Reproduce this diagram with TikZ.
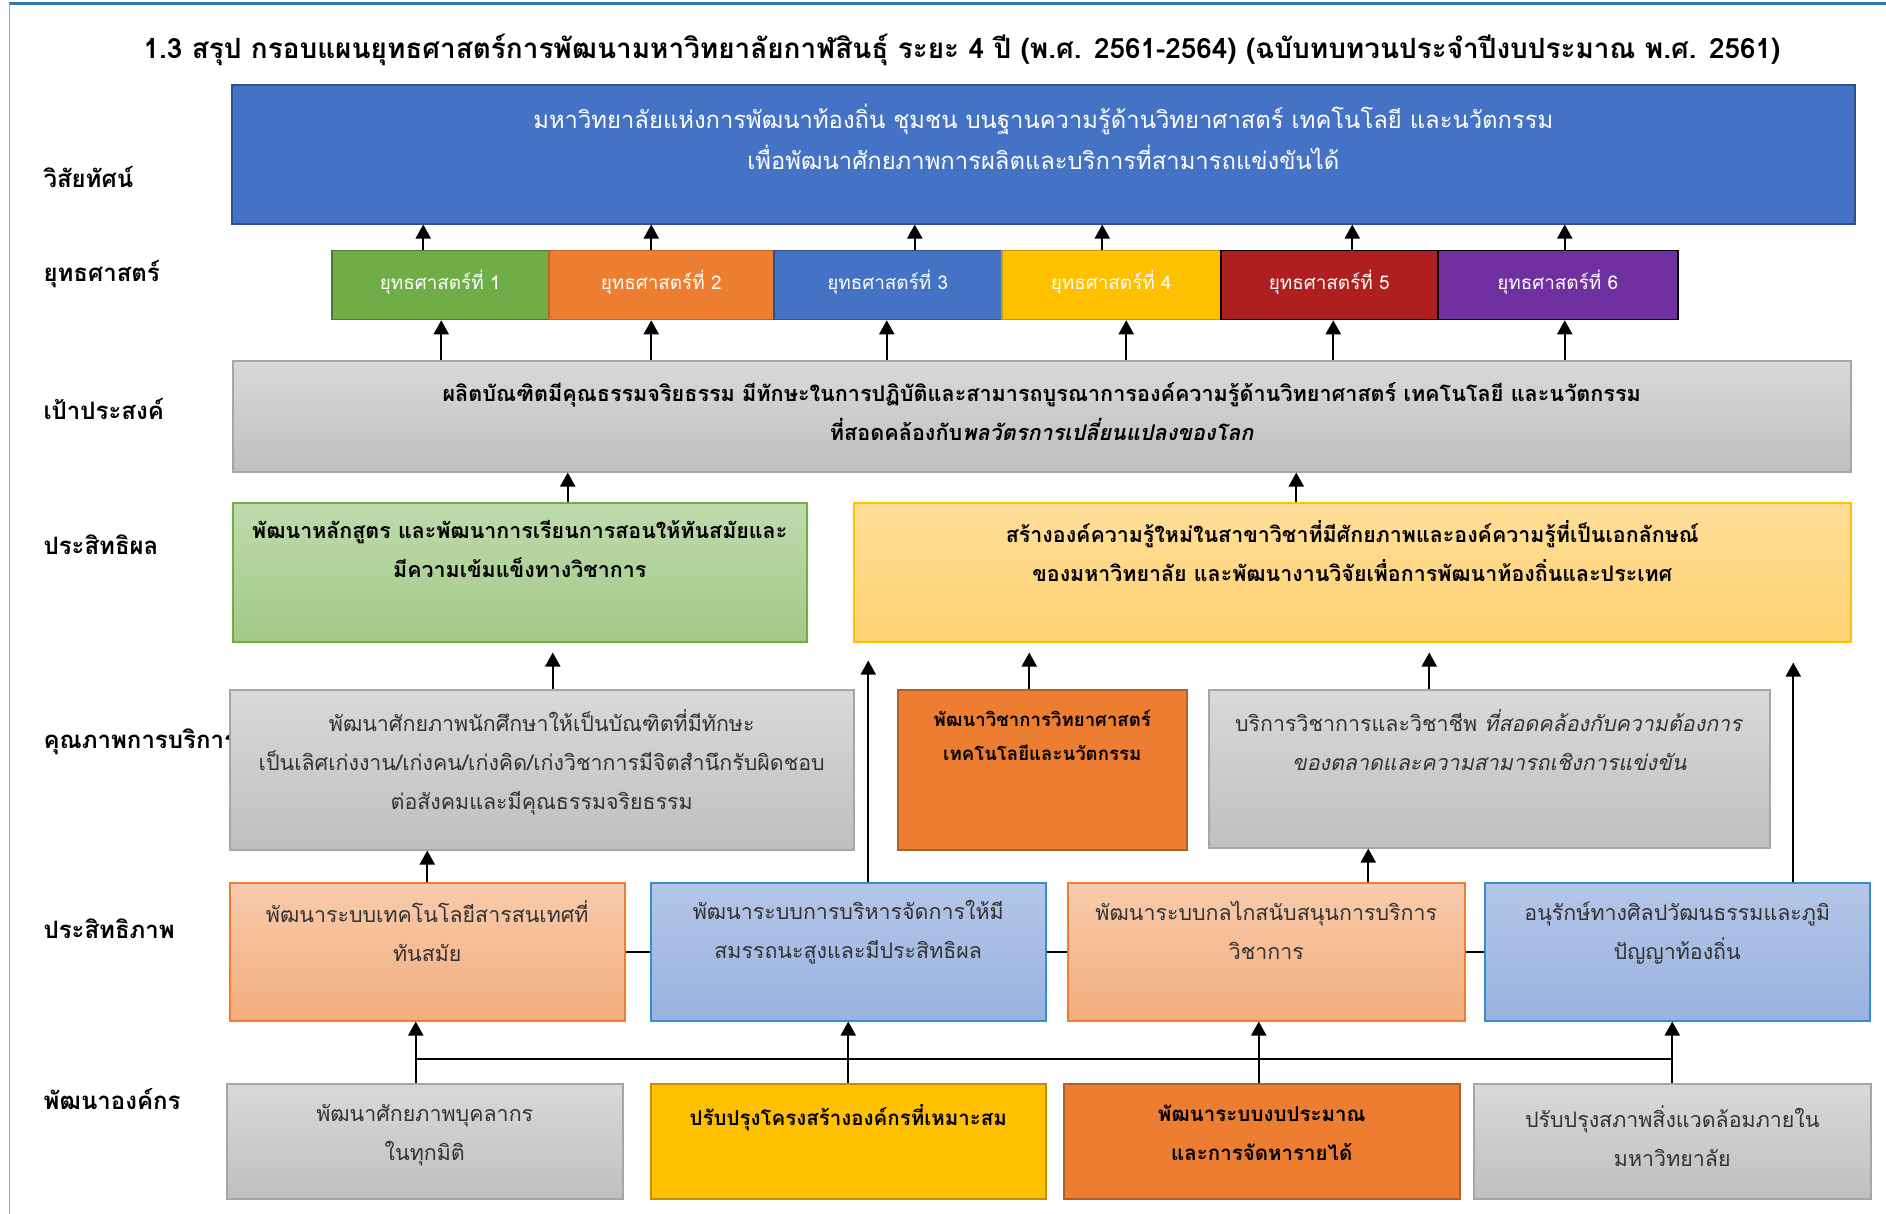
\documentclass[tikz,border=0pt]{standalone}
\usepackage{fontspec}
\setmainfont[Script=Thai]{Loma}
\usetikzlibrary{positioning,arrows.meta}

\definecolor{visblue}{HTML}{4472C4}
\definecolor{visedge}{HTML}{2F528F}
\definecolor{sgreen}{HTML}{70AD47}
\definecolor{sorange}{HTML}{ED7D31}
\definecolor{sgold}{HTML}{FFC000}
\definecolor{sred}{HTML}{B01F1F}
\definecolor{spurple}{HTML}{7030A0}
\definecolor{frameblue}{HTML}{2E75B6}
\definecolor{ylwtop}{HTML}{FFDE98}
\definecolor{ylwbot}{HTML}{FFD272}

\tikzset{
  box/.style={draw,anchor=north west,line width=1.5pt,inner sep=0pt},
  graybox/.style={box,draw=gray!70,top color=black!15,bottom color=black!25},
  greenbox/.style={box,draw=sgreen,top color=sgreen!45,bottom color=sgreen!65},
  yellowbox/.style={box,draw=sgold,top color=ylwtop,bottom color=ylwbot},
  salmonbox/.style={box,draw=sorange,top color=sorange!40,bottom color=sorange!63},
  lblue/.style={box,draw=visblue!80!cyan,top color=visblue!40,bottom color=visblue!55},
  stratbox/.style={box,text=white,font=\fontsize{18.9}{22}\selectfont,text depth=10pt,
    minimum width=#1,minimum height=69pt,anchor=west},
  lbl/.style={anchor=west,font=\bfseries\fontsize{24}{28}\selectfont},
  txt/.style={anchor=north,align=center,text=black!80,font=\fontsize{21.4}{39}\selectfont},
  txtb/.style={txt,text=black,font=\bfseries\fontsize{21.4}{39}\selectfont},
  arr/.style={-{Triangle[length=14pt,width=15pt]},line width=2pt},
  link/.style={line width=2pt}
}

\begin{document}
\begin{tikzpicture}[x=1pt,y=-1pt]
\useasboundingbox (0,0) rectangle (1886,1213);
\draw[frameblue,line width=3pt] (9,3) -- (1890,3);
\draw[frameblue!60,line width=1pt] (9,3) -- (9,1220);

% title
\node[font=\bfseries\fontsize{27.9}{30}\selectfont] (title) at (962,50)
  {1.3 สรุป กรอบแผนยุทธศาสตร์การพัฒนามหาวิทยาลัยกาฬสินธุ์ ระยะ 4 ปี (พ.ศ. 2561-2564) (ฉบับทบทวนประจำปีงบประมาณ พ.ศ. 2561)};

% row labels
\node[lbl] (lvis) at (40,177) {วิสัยทัศน์};
\node[lbl] (lstr) at (40,274) {ยุทธศาสตร์};
\node[lbl] (lgoal) at (40,409) {เป้าประสงค์};
\node[lbl] (leff) at (40,545) {ประสิทธิผล};
\node[lbl] (lqual) at (40,742) {คุณภาพการบริการ};
\node[lbl] (leffy) at (40,929) {ประสิทธิภาพ};
\node[lbl] (lorg) at (40,1099) {พัฒนาองค์กร};

% vision
\node[box,draw=visedge,fill=visblue,minimum width=1623pt,minimum height=139pt] (vis) at (231,84) {};
\node[txt,text=white,font=\fontsize{23.8}{41}\selectfont,below=16pt of vis.north] (vist)
  {มหาวิทยาลัยแห่งการพัฒนาท้องถิ่น ชุมชน บนฐานความรู้ด้านวิทยาศาสตร์ เทคโนโลยี และนวัตกรรม\\
   เพื่อพัฒนาศักยภาพการผลิตและบริการที่สามารถแข่งขันได้};

% strategies
\node[stratbox=217pt,draw=sgreen!70!black,fill=sgreen] (s1) at (331,285) {ยุทธศาสตร์ที่ 1};
\node[stratbox=225pt,draw=sorange!80!black,fill=sorange] (s2) at (548,285) {ยุทธศาสตร์ที่ 2};
\node[stratbox=228pt,draw=visedge,fill=visblue] (s3) at (773,285) {ยุทธศาสตร์ที่ 3};
\node[stratbox=219pt,draw=sgold!80!black,fill=sgold] (s4) at (1001,285) {ยุทธศาสตร์ที่ 4};
\node[stratbox=217pt,draw=black,fill=sred] (s5) at (1220,285) {ยุทธศาสตร์ที่ 5};
\node[stratbox=240pt,draw=black,fill=spurple] (s6) at (1437,285) {ยุทธศาสตร์ที่ 6};

% goal
\node[graybox,minimum width=1618pt,minimum height=111pt] (goal) at (232,360) {};
\node[txtb,font=\bfseries\fontsize{21.6}{38.5}\selectfont,below=19pt of goal.north] (goalt)
  {ผลิตบัณฑิตมีคุณธรรมจริยธรรม มีทักษะในการปฏิบัติและสามารถบูรณาการองค์ความรู้ด้านวิทยาศาสตร์ เทคโนโลยี และนวัตกรรม\\
   ที่สอดคล้องกับ\textit{พลวัตรการเปลี่ยนแปลงของโลก}};

% effectiveness
\node[greenbox,minimum width=574pt,minimum height=139pt] (ef1) at (232,502) {};
\node[txtb,below=15pt of ef1.north] (ef1t)
  {พัฒนาหลักสูตร และพัฒนาการเรียนการสอนให้ทันสมัยและ\\มีความเข้มแข็งทางวิชาการ};
\node[yellowbox,minimum width=997pt,minimum height=139pt] (ef2) at (853,502) {};
\node[txtb,below=15pt of ef2.north] (ef2t)
  {สร้างองค์ความรู้ใหม่ในสาขาวิชาที่มีศักยภาพและองค์ความรู้ที่เป็นเอกลักษณ์\\
   ของมหาวิทยาลัย และพัฒนางานวิจัยเพื่อการพัฒนาท้องถิ่นและประเทศ};

% service quality
\node[graybox,minimum width=624pt,minimum height=160pt] (q1) at (229,689) {};
\node[txt,below=17pt of q1.north] (q1t)
  {พัฒนาศักยภาพนักศึกษาให้เป็นบัณฑิตที่มีทักษะ\\
   เป็นเลิศเก่งงาน/เก่งคน/เก่งคิด/เก่งวิชาการมีจิตสำนึกรับผิดชอบ\\
   ต่อสังคมและมีคุณธรรมจริยธรรม};
\node[box,draw=sorange!75!black,fill=sorange,minimum width=289pt,minimum height=160pt] (q2) at (897,689) {};
\node[txtb,below=18pt of q2.north,font=\bfseries\fontsize{18.6}{34}\selectfont] (q2t)
  {พัฒนาวิชาการวิทยาศาสตร์\\เทคโนโลยีและนวัตกรรม};
\node[graybox,minimum width=561pt,minimum height=158pt] (q3) at (1208,689) {};
\node[txt,below=17pt of q3.north] (q3t)
  {บริการวิชาการและวิชาชีพ \textit{ที่สอดคล้องกับความต้องการ}\\
   \textit{ของตลาดและความสามารถเชิงการแข่งขัน}};

% efficiency
\node[salmonbox,minimum width=395pt,minimum height=138pt] (e1) at (229,882) {};
\node[txt,below=15pt of e1.north] (e1t) {พัฒนาระบบเทคโนโลยีสารสนเทศที่\\ทันสมัย};
\node[lblue,minimum width=395pt,minimum height=138pt] (e2) at (650,882) {};
\node[txt,below=15pt of e2.north] (e2t) {พัฒนาระบบการบริหารจัดการให้มี\\สมรรถนะสูงและมีประสิทธิผล};
\node[salmonbox,minimum width=397pt,minimum height=138pt] (e3) at (1067,882) {};
\node[txt,below=16pt of e3.north] (e3t) {พัฒนาระบบกลไกสนับสนุนการบริการ\\วิชาการ};
\node[lblue,minimum width=385pt,minimum height=138pt] (e4) at (1484,882) {};
\node[txt,below=16pt of e4.north] (e4t) {อนุรักษ์ทางศิลปวัฒนธรรมและภูมิ\\ปัญญาท้องถิ่น};

% organisation
\node[graybox,minimum width=396pt,minimum height=115pt] (o1) at (226,1083) {};
\node[txt,below=18pt of o1.north] (o1t) {พัฒนาศักยภาพบุคลากร\\ในทุกมิติ};
\node[box,draw=sgold!75!black,fill=sgold,minimum width=395pt,minimum height=115pt] (o2) at (650,1083) {};
\node[txtb,font=\bfseries\fontsize{20.5}{39}\selectfont,below=18pt of o2.north] (o2t) {ปรับปรุงโครงสร้างองค์กรที่เหมาะสม};
\node[box,draw=sorange!75!black,fill=sorange,minimum width=396pt,minimum height=115pt] (o3) at (1063,1083) {};
\node[txtb,font=\bfseries\fontsize{20.5}{39}\selectfont,below=18pt of o3.north] (o3t) {พัฒนาระบบงบประมาณ\\และการจัดหารายได้};
\node[graybox,minimum width=397pt,minimum height=115pt] (o4) at (1473,1083) {};
\node[txt,below=19pt of o4.north] (o4t) {ปรับปรุงสภาพสิ่งแวดล้อมภายใน\\มหาวิทยาลัย};

% arrows strategy -> vision, goal -> strategy
\foreach \s/\dx in {s1/-17,s2/-10,s3/27,s4/-9,s5/23,s6/7}
  \draw[arr] ([xshift=\dx pt]\s.north) -- ([xshift=\dx pt]\s.north |- vis.south);
\foreach \s/\dx in {s1/1,s2/-10,s3/-1,s4/15,s5/4,s6/7}
  \draw[arr] ([xshift=\dx pt]\s.south |- goal.north) -- ([xshift=\dx pt]\s.south);

% effectiveness -> goal
\draw[arr] ([xshift=48pt]ef1.north) -- ([xshift=48pt]ef1.north |- goal.south);
\draw[arr] ([xshift=-56pt]ef2.north) -- ([xshift=-56pt]ef2.north |- goal.south);

% service -> effectiveness
\draw[arr,shorten >=10pt] ([xshift=11pt]q1.north) -- ([xshift=11pt]q1.north |- ef1.south);
\draw[arr,shorten >=10pt] ([xshift=-13pt]q2.north) -- ([xshift=-13pt]q2.north |- ef2.south);
\draw[arr,shorten >=10pt] ([xshift=-60pt]q3.north) -- ([xshift=-60pt]q3.north |- ef2.south);

% efficiency -> service / effectiveness
\draw[arr] (e1.north) -- (e1.north |- q1.south);
\draw[arr] ([xshift=102pt]e3.north) -- ([xshift=102pt]e3.north |- q3.south);
\draw[arr,shorten >=18pt] ([xshift=20pt]e2.north) -- ([xshift=20pt]e2.north |- ef2.south);
\draw[arr,shorten >=20pt] ([xshift=116pt]e4.north) -- ([xshift=116pt]e4.north |- ef2.south);

% links between efficiency boxes
\draw[link] (e1.east) -- (e2.west);
\draw[link] (e2.east) -- (e3.west);
\draw[link] (e3.east) -- (e4.west);

% organisation -> efficiency, with bus
\coordinate (bus) at (0,1059);
\draw[link] ([xshift=-9pt]o1.north |- bus) -- (o4.north |- bus);
\draw[arr] ([xshift=-9pt]o1.north) -- ([xshift=-9pt]o1.north |- e1.south);
\draw[arr] (o2.north) -- (o2.north |- e2.south);
\draw[arr] ([xshift=-3pt]o3.north) -- ([xshift=-3pt]o3.north |- e3.south);
\draw[arr] (o4.north) -- (o4.north |- e4.south);
\end{tikzpicture}
\end{document}
